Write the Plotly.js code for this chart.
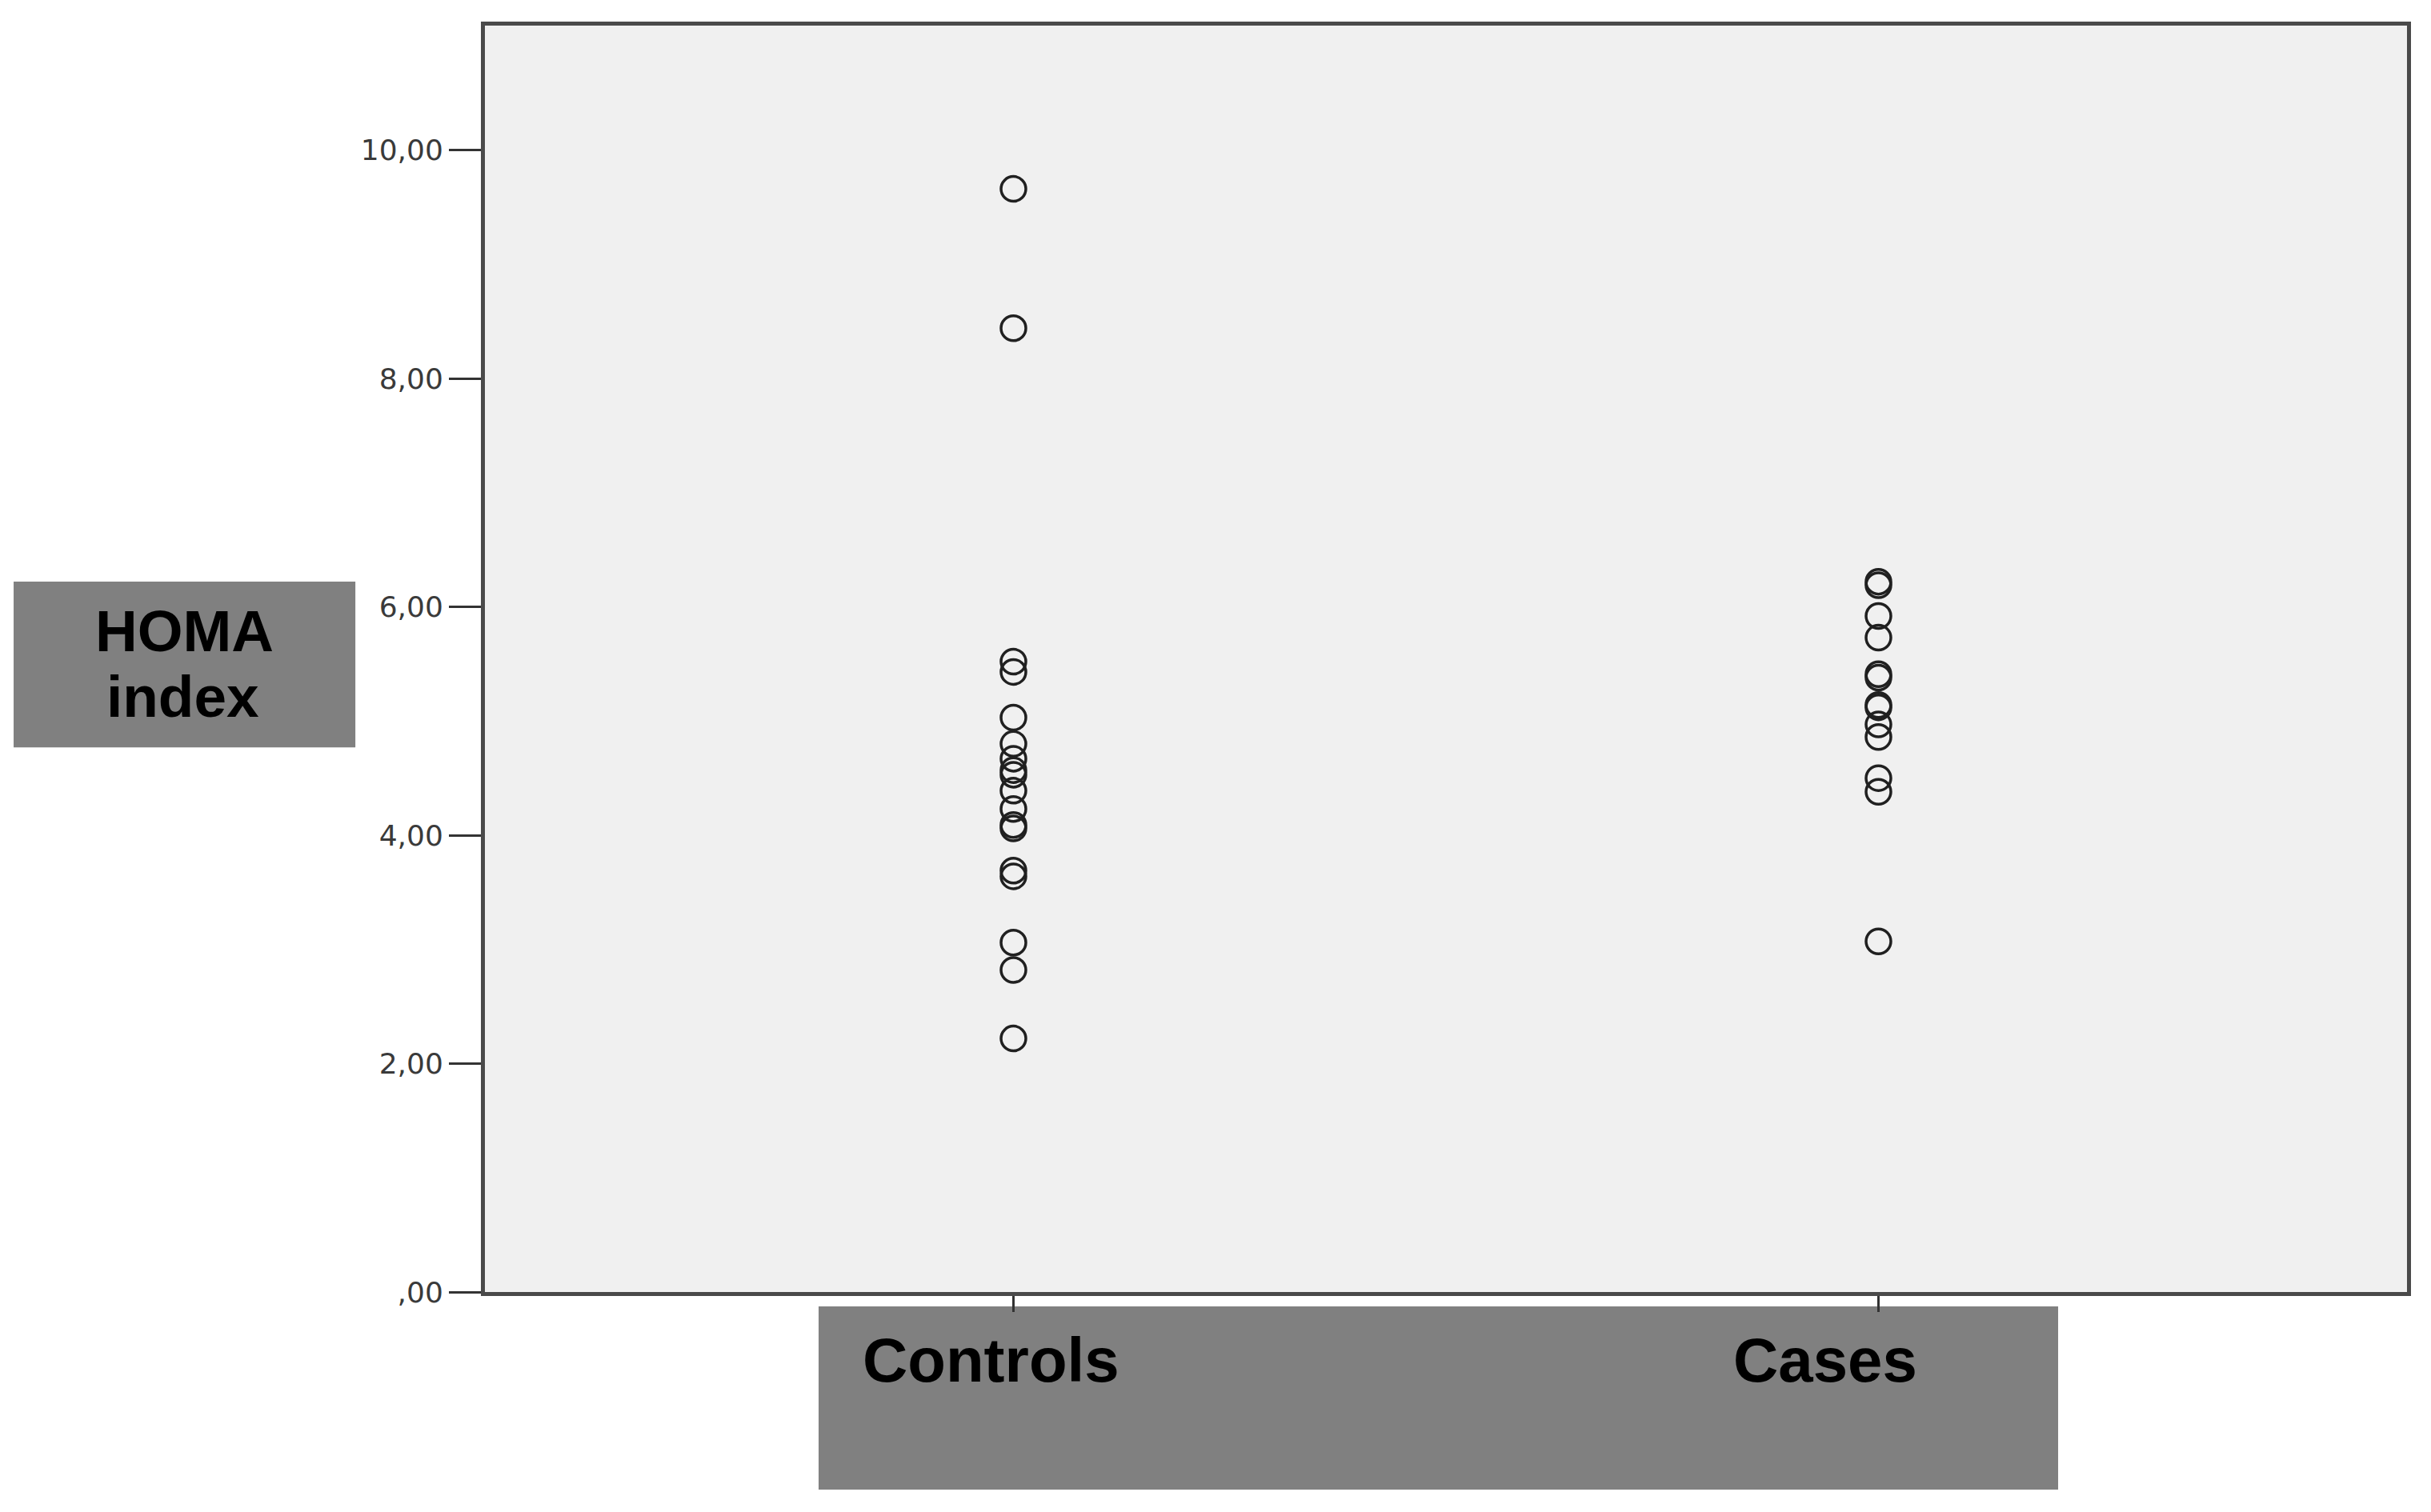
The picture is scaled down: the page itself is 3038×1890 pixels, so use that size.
<!DOCTYPE html>
<html>
<head>
<meta charset="utf-8">
<script src="https://cdn.plot.ly/plotly-3.0.1.min.js"></script>
<style>
  html, body { margin: 0; padding: 0; background: #ffffff; }
  #chart { width: 3038px; height: 1890px; }
</style>
</head>
<body>
<div id="chart"></div>
<script>
// groups on the x axis
const groups = ["Controls", "Cases"];

// HOMA index values
const controlsHoma = [9.66, 8.44, 5.52, 5.43, 5.03, 4.80, 4.67, 4.57, 4.53,
                      4.39, 4.23, 4.09, 4.06, 3.69, 3.64, 3.06, 2.82, 2.22];
const casesHoma = [6.22, 6.19, 5.92, 5.73, 5.41, 5.38, 5.14, 5.12,
                   4.97, 4.86, 4.50, 4.38, 3.07];

// y tick labels (decimal comma)
const yTickVals = [0, 2, 4, 6, 8, 10];
const yTickText = [",00", "2,00", "4,00", "6,00", "8,00", "10,00"];

const chartDiv = document.getElementById("chart");

const markerStyle = {
    symbol: "circle-open",
    size: 31,
    color: "#202020",
    line: {width: 3.5, color: "#202020"}
};

const trace1 = {
    x: controlsHoma.map(() => groups[0]),
    y: controlsHoma,
    mode: "markers",
    type: "scatter",
    marker: markerStyle,
    hoverinfo: "y"
};
const trace2 = {
    x: casesHoma.map(() => groups[1]),
    y: casesHoma,
    mode: "markers",
    type: "scatter",
    marker: markerStyle,
    hoverinfo: "y"
};

// label offsets in px from the tick (labels sit left of centre in the original)
const labelShift = [-28, -67];

const groupLabels = groups.map((g, i) => ({
    x: g, xref: "x",
    y: -0.0537, yref: "paper",
    text: "<b>" + g + "</b>",
    showarrow: false,
    xanchor: "center", yanchor: "middle",
    xshift: labelShift[i],
    font: {family: "Liberation Sans, Arial, sans-serif", size: 78, color: "#000000"}
}));

const layout = {
    width: 3038,
    height: 1890,
    margin: {l: 606, r: 30, t: 32, b: 275},
    paper_bgcolor: "#ffffff",
    plot_bgcolor: "#f0f0f0",
    showlegend: false,
    xaxis: {
        type: "category",
        range: [-0.611, 1.611],
        showgrid: false,
        zeroline: false,
        showline: true,
        mirror: true,
        linecolor: "#4a4a4a",
        linewidth: 5,
        ticks: "outside",
        ticklen: 20,
        tickwidth: 3,
        tickcolor: "#333333",
        showticklabels: false
    },
    yaxis: {
        range: [0, 11.09],
        tickvals: yTickVals,
        ticktext: yTickText,
        showgrid: false,
        zeroline: false,
        showline: true,
        mirror: true,
        linecolor: "#4a4a4a",
        linewidth: 5,
        ticks: "outside",
        ticklen: 40,
        tickwidth: 3,
        tickcolor: "#333333",
        tickfont: {family: "DejaVu Sans, sans-serif", size: 36, color: "#3a3a3a"}
    },
    shapes: [
        // grey box behind the y title
        {type: "rect", xref: "paper", yref: "paper",
         x0: -0.2452, x1: -0.0674, y0: 0.430, y1: 0.561,
         fillcolor: "#808080", line: {width: 0}, layer: "below"},
        // grey box behind the group labels
        {type: "rect", xref: "paper", yref: "paper",
         x0: 0.1736, x1: 0.8185, y0: -0.156, y1: -0.0114,
         fillcolor: "#808080", line: {width: 0}, layer: "below"}
    ],
    annotations: [
        {x: -0.1565, xref: "paper", y: 0.522, yref: "paper",
         text: "<b>HOMA</b>", showarrow: false,
         xanchor: "center", yanchor: "middle",
         font: {family: "Liberation Sans, Arial, sans-serif", size: 73, color: "#000000"}},
        {x: -0.1573, xref: "paper", y: 0.470, yref: "paper",
         text: "<b>index</b>", showarrow: false,
         xanchor: "center", yanchor: "middle",
         font: {family: "Liberation Sans, Arial, sans-serif", size: 73, color: "#000000"}}
    ].concat(groupLabels)
};

Plotly.newPlot(chartDiv, [trace1, trace2], layout, {staticPlot: true});
</script>
</body>
</html>
